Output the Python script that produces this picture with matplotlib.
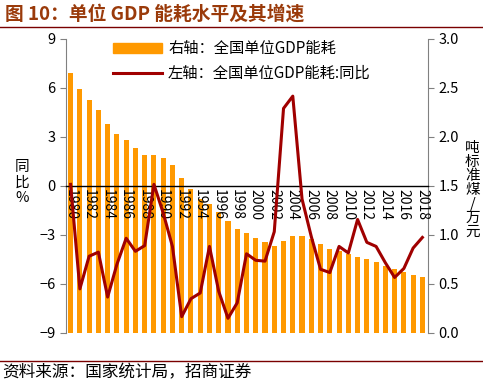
import numpy as np
import matplotlib
matplotlib.use('Agg')
import matplotlib.pyplot as plt
from matplotlib.lines import Line2D
from matplotlib.patches import Patch

plt.rcParams['font.family'] = ['Noto Sans CJK SC', 'DejaVu Sans']

# 年份
years = list(range(1980, 2019))
# 全国单位GDP能耗（吨标准煤/万元，右轴）
energy = [2.65, 2.49, 2.38, 2.28, 2.13, 2.03, 1.97, 1.89, 1.82, 1.82,
          1.79, 1.71, 1.58, 1.47, 1.37, 1.32, 1.23, 1.14, 1.06, 1.02,
          0.97, 0.93, 0.89, 0.94, 0.99, 0.99, 0.96, 0.91, 0.86, 0.84,
          0.81, 0.78, 0.75, 0.72, 0.68, 0.65, 0.62, 0.59, 0.57]
# 同比（%，左轴）
yoy = [0.1, -6.3, -4.3, -4.05, -6.8, -4.8, -3.2, -4.0, -3.65, 0.1,
       -1.65, -3.7, -8.0, -6.9, -6.55, -3.7, -6.45, -8.1, -7.15, -4.15,
       -4.55, -4.6, -2.8, 4.75, 5.5, -0.8, -3.1, -5.1, -5.3, -3.7,
       -4.1, -2.05, -3.45, -3.7, -4.7, -5.6, -5.05, -3.8, -3.15]

bar_color = '#FF9900'
line_color = '#A00000'
title_color = '#9A3A0A'

fig = plt.figure(figsize=(4.83, 3.80), dpi=100)
ax = fig.add_axes([0.1366, 0.1237, 0.7494, 0.7737])
ax2 = ax.twinx()

# 柱子画在右轴，折线画在左轴，折线在上层
ax.set_zorder(ax2.get_zorder() + 1)
ax.patch.set_visible(False)

ax2.bar(years, energy, width=0.55, color=bar_color, zorder=1)
ax2.set_ylim(0, 3.0)
ax2.set_yticks(np.arange(0, 3.01, 0.5))
ax2.set_yticklabels(['%.1f' % v for v in np.arange(0, 3.01, 0.5)], fontsize=10.5)

ax.plot(years, yoy, color=line_color, linewidth=2.2, zorder=3)
ax.set_ylim(-9, 9)
ax.set_yticks(range(-9, 10, 3))
ax.tick_params(axis='y', labelsize=10.5)
ax.set_xlim(1979.5, 2018.6)

# x轴放在0位置
ax.spines['bottom'].set_position(('data', 0))
ax.spines['bottom'].set_color('black')
ax.spines['bottom'].set_linewidth(1.0)
ax.spines['top'].set_visible(False)
ax.spines['right'].set_visible(False)
ax.spines['left'].set_color('#808080')
for s in ['top', 'left', 'bottom']:
    ax2.spines[s].set_visible(False)
ax2.spines['right'].set_color('#808080')

ax.set_xticks(years[::2])
ax.set_xticklabels([str(y) for y in years[::2]], rotation=270, fontsize=10)
ax.tick_params(axis='x', length=0, pad=2)
ax.tick_params(axis='y', colors='#808080', labelcolor='black', length=4)
ax2.tick_params(axis='y', colors='#808080', labelcolor='black', length=4)

fig.text(0.045, 0.52, '同\n比\n%', fontsize=10.5, ha='center', va='center',
         linespacing=1.1)
fig.text(0.978, 0.5, '吨\n标\n准\n煤\n/\n万\n元', fontsize=10.5, ha='center',
         va='center', linespacing=1.0)

handles = [Patch(color=bar_color), Line2D([0], [0], color=line_color, lw=2.2)]
labels = ['右轴：全国单位GDP能耗', '左轴：全国单位GDP能耗:同比']
ax.legend(handles, labels, loc='upper left', bbox_to_anchor=(0.13, 0.995),
          frameon=False, fontsize=11, handlelength=3.2, handleheight=0.6,
          handletextpad=0.4, labelspacing=0.5, borderpad=0, borderaxespad=0)

# 标题与来源
fig.text(0.01, 0.963, '图 10：单位 GDP 能耗水平及其增速', fontsize=13.5,
         fontweight='bold', color=title_color, va='center')
fig.add_artist(Line2D([0, 1], [0.928, 0.928], color='#7A0000', lw=1.0))
fig.add_artist(Line2D([0, 1], [0.05, 0.05], color='#7A0000', lw=1.0))
fig.text(0.005, 0.02, '资料来源：国家统计局，招商证券', fontsize=12, va='center')

fig.savefig('out.png', dpi=100)
